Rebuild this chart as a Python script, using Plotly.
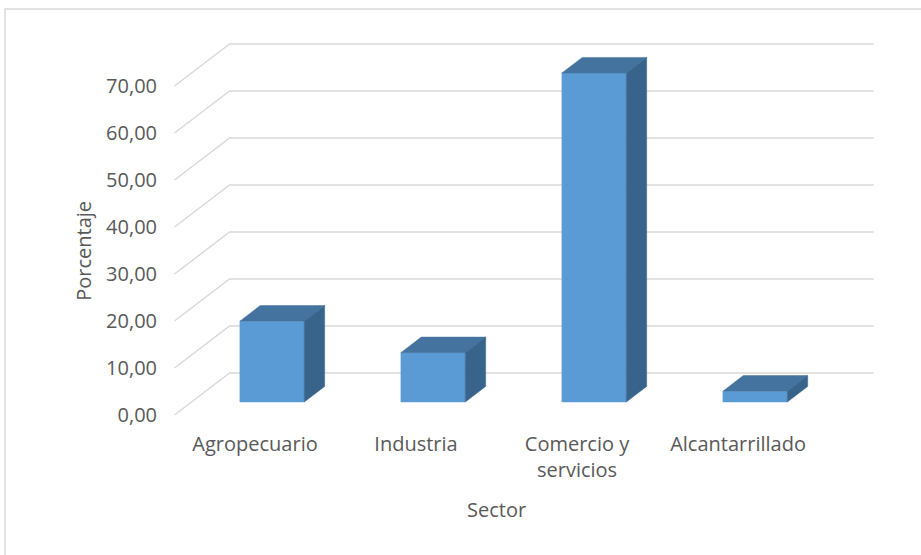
import plotly.graph_objects as go

# Share of each sector (%)
CATEGORIES = ["Agropecuario", "Industria", "Comercio y servicios", "Alcantarrillado"]
VALUES = [17.2, 10.5, 70.0, 2.3]
Y_TICKS = [0, 10, 20, 30, 40, 50, 60, 70]

# Oblique 3-D projection: depth t runs from 0 (front edge of floor) to 1 (back wall)
DEPTH_X = 0.342   # horizontal shift per full depth, in category units
DEPTH_Y = 8.94    # vertical shift per full depth, in value units
BAR_FRONT = 0.31
BAR_BACK = 0.68
HALF_W = 0.2
WALL_LEFT = -0.5
WALL_RIGHT = 3.5

FRONT_COLOR = "#5B9BD5"
TOP_COLOR = "#44739F"
SIDE_COLOR = "#38648B"
GRID_COLOR = "#D9D9D9"
TEXT_COLOR = "#595959"
FONT = "Open Sans"


def project(x, y, t):
    return x + t * DEPTH_X, y + t * DEPTH_Y


def polygon(points):
    xs, ys = [], []
    for x, y, t in points:
        px, py = project(x, y, t)
        xs.append(px)
        ys.append(py)
    xs.append(xs[0])
    ys.append(ys[0])
    return xs, ys


fig = go.Figure()

# Gridlines: diagonal on the left wall, then horizontal along the back wall
gx, gy = [], []
for v in Y_TICKS:
    for x, t in [(WALL_LEFT, 0), (WALL_LEFT, 1), (WALL_RIGHT, 1)]:
        px, py = project(x, v, t)
        gx.append(px)
        gy.append(py)
    gx.append(None)
    gy.append(None)
fig.add_trace(go.Scatter(x=gx, y=gy, mode="lines",
                         line=dict(color=GRID_COLOR, width=1.5),
                         hoverinfo="skip", showlegend=False))

# 3-D columns built from three faces each
for c, v in enumerate(VALUES):
    l, r = c - HALF_W, c + HALF_W
    faces = [
        ([(l, 0, BAR_FRONT), (r, 0, BAR_FRONT), (r, v, BAR_FRONT), (l, v, BAR_FRONT)], FRONT_COLOR),
        ([(l, v, BAR_FRONT), (r, v, BAR_FRONT), (r, v, BAR_BACK), (l, v, BAR_BACK)], TOP_COLOR),
        ([(r, 0, BAR_FRONT), (r, 0, BAR_BACK), (r, v, BAR_BACK), (r, v, BAR_FRONT)], SIDE_COLOR),
    ]
    for pts, color in faces:
        xs, ys = polygon(pts)
        fig.add_trace(go.Scatter(x=xs, y=ys, mode="lines", fill="toself",
                                 fillcolor=color, line=dict(color=color, width=0.5),
                                 hoverinfo="skip", showlegend=False))

tick_text = [name.replace(" y ", " y<br>") for name in CATEGORIES]

fig.update_layout(
    width=921, height=555,
    margin=dict(l=158, r=16, t=20, b=125),
    paper_bgcolor="white", plot_bgcolor="white",
    separators=",.",
    font=dict(family=FONT, size=20, color=TEXT_COLOR),
    showlegend=False,
    xaxis=dict(range=[-0.6025, 4.037], tickvals=list(range(len(CATEGORIES))), ticktext=tick_text,
               showgrid=False, zeroline=False, showline=False, ticks="", fixedrange=True),
    yaxis=dict(range=[-3.19, 84.04], tickvals=Y_TICKS, tickformat=".2f",
               showgrid=False, zeroline=False, showline=False, ticks="", fixedrange=True),
    annotations=[
        dict(text="Sector", x=1.5, xref="x", y=-0.195, yref="paper",
             showarrow=False, xanchor="center", yanchor="middle"),
        dict(text="Porcentaje", x=-0.1, xref="paper", y=35, yref="y", textangle=-90,
             showarrow=False, xanchor="center", yanchor="middle"),
    ],
    shapes=[
        dict(type="rect", xref="paper", yref="paper", x0=-0.2048, x1=1.05, y0=-0.4, y1=1.0268,
             line=dict(color="#D9D9D9", width=1.5), fillcolor="rgba(0,0,0,0)", layer="below"),
    ],
)

fig.write_html("out.html")
